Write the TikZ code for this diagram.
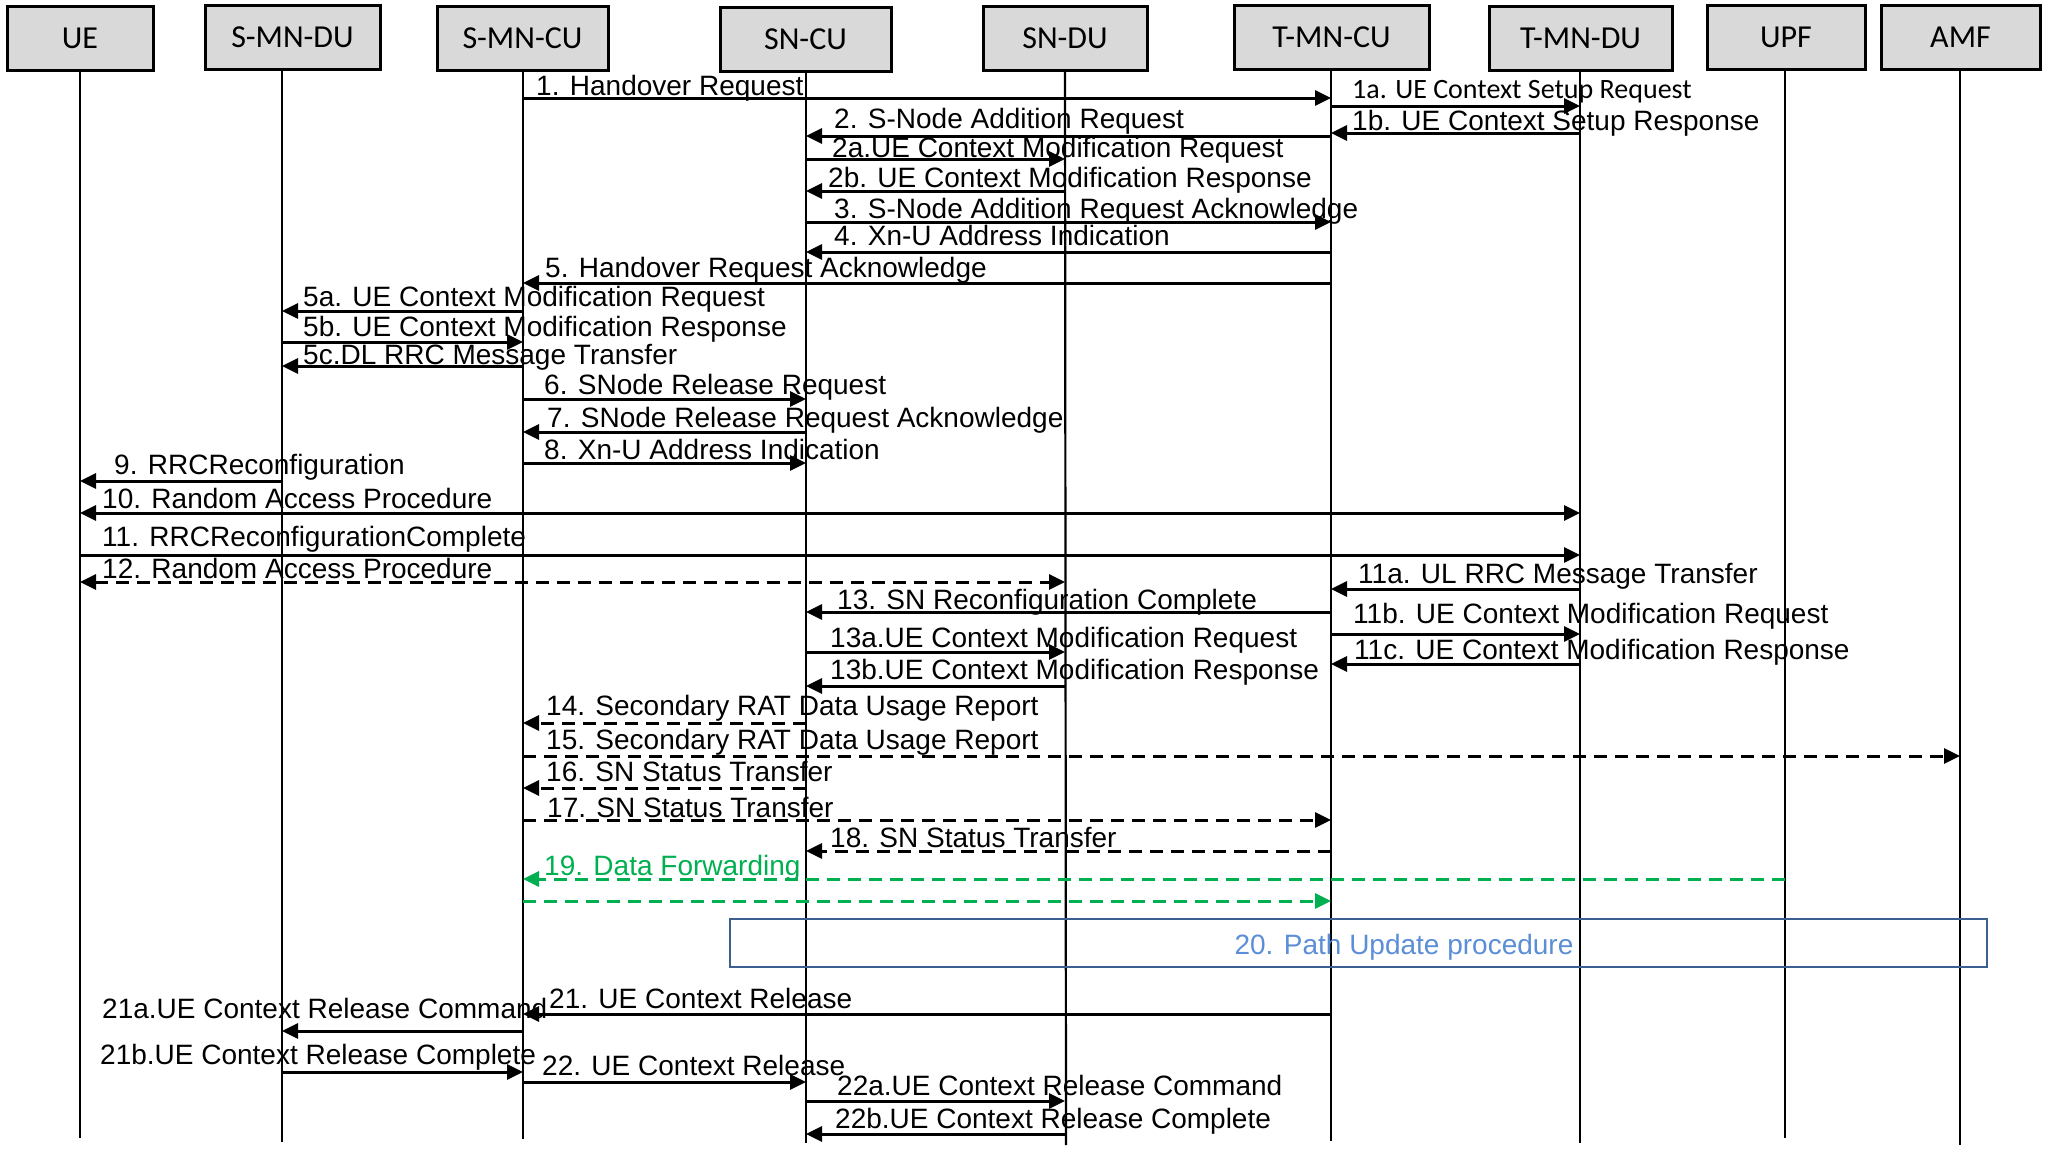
\documentclass[tikz,border=0pt]{standalone}
\usepackage{fontspec}
\setmainfont{Liberation Sans}
\newfontfamily\labfont{Liberation Sans}
\newfontfamily\calfont{Carlito}
\usetikzlibrary{arrows.meta}
\definecolor{boxgray}{HTML}{D9D9D9}
\definecolor{dfgreen}{HTML}{00B050}
\definecolor{pathblue}{HTML}{3C5F8F}
\definecolor{pathtext}{HTML}{5B8ED6}
\tikzset{
  entity/.style={draw=black, line width=3pt, fill=boxgray, minimum height=64pt, inner sep=0pt, font=\calfont\fontsize{32}{38}\selectfont},
  lifeline/.style={line width=2.2pt, black},
  msgline/.style={line width=3pt, -{Triangle[length=16pt,width=15pt]}},
  twoway/.style={line width=3pt, {Triangle[length=16pt,width=15pt]}-{Triangle[length=16pt,width=15pt]}},
  dashmsg/.style={dash pattern=on 13pt off 8pt},
  greenmsg/.style={dfgreen, dash pattern=on 13pt off 8pt},
  lbl/.style={anchor=base west, inner sep=0pt, font=\labfont\fontsize{28}{33}\selectfont},
}
\newcommand\msgto[4][]{\draw[msgline,#1] (#2 |- 0,#4) -- (#3 |- 0,#4);}
\begin{document}
\begin{tikzpicture}[x=1pt,y=-1pt]
\useasboundingbox (0,0) rectangle (2048,1154);
% entity boxes
\node[entity, minimum width=146pt] (ue) at (80,38) {UE};
\node[entity, minimum width=175pt] (smndu) at (292.5,37.5) {S-MN-DU};
\node[entity, minimum width=171pt] (smncu) at (522.5,38.5) {S-MN-CU};
\node[entity, minimum width=171pt] (sncu) at (805.5,39.5) {SN-CU};
\node[entity, minimum width=164pt] (sndu) at (1065,38.5) {SN-DU};
\node[entity, minimum width=195pt] (tmncu) at (1331.5,37.5) {T-MN-CU};
\node[entity, minimum width=183pt] (tmndu) at (1580.5,38) {T-MN-DU};
\node[entity, minimum width=158pt] (upf) at (1786,37.5) {UPF};
\node[entity, minimum width=159pt] (amf) at (1960.5,37.5) {AMF};
% lifeline coordinates
\coordinate (Lue) at (80,0);
\coordinate (Lsmndu) at (282,0);
\coordinate (Lsmncu) at (523,0);
\coordinate (Lsncu) at (806,0);
\coordinate (Lsndu) at (1065,0);
\coordinate (Ltmncu) at (1331,0);
\coordinate (Ltmndu) at (1580,0);
\coordinate (Lupf) at (1785,0);
\coordinate (Lamf) at (1960,0);
\coordinate (Bue) at (80,1138);
\coordinate (Bsmndu) at (282,1142);
\coordinate (Bsmncu) at (523,1139);
\coordinate (Bsncu) at (806,1143);
\coordinate (Bsndu) at (1066,1145);
\coordinate (Btmncu) at (1331,1141);
\coordinate (Btmndu) at (1580,1143);
\coordinate (Bupf) at (1785,1138);
\coordinate (Bamf) at (1960,1145);
\draw[lifeline] (Lue |- ue.south) -- (Bue);
\draw[lifeline] (Lsmndu |- smndu.south) -- (Bsmndu);
\draw[lifeline] (Lsmncu |- smncu.south) -- (Bsmncu);
\draw[lifeline] (Lsncu |- sncu.south) -- (Bsncu);
\draw[lifeline] (Lsndu |- sndu.south) -- (Bsndu);
\draw[lifeline] (Ltmncu |- tmncu.south) -- (Btmncu);
\draw[lifeline] (Ltmndu |- tmndu.south) -- (Btmndu);
\draw[lifeline] (Lupf |- upf.south) -- (Bupf);
\draw[lifeline] (Lamf |- amf.south) -- (Bamf);
% messages
\msgto{Lsmncu}{Ltmncu}{98}
\msgto{Ltmncu}{Ltmndu}{106}
\msgto{Ltmndu}{Ltmncu}{133}
\msgto{Ltmncu}{Lsncu}{136}
\msgto{Lsncu}{Lsndu}{159}
\msgto{Lsndu}{Lsncu}{191}
\msgto{Lsncu}{Ltmncu}{222}
\msgto{Ltmncu}{Lsncu}{252}
\msgto{Ltmncu}{Lsmncu}{283}
\msgto{Lsmncu}{Lsmndu}{311}
\msgto{Lsmndu}{Lsmncu}{342}
\msgto{Lsmncu}{Lsmndu}{366}
\msgto{Lsmncu}{Lsncu}{399}
\msgto{Lsncu}{Lsmncu}{432}
\msgto{Lsmncu}{Lsncu}{463}
\msgto{Lsmndu}{Lue}{481}
\draw[twoway] (Lue |- 0,513) -- (Ltmndu |- 0,513);
\msgto{Lue}{Ltmndu}{555}
\msgto{Ltmndu}{Ltmncu}{589}
\draw[twoway,dashmsg] (Lue |- 0,582) -- (Lsndu |- 0,582);
\msgto{Ltmncu}{Lsncu}{612}
\msgto{Ltmncu}{Ltmndu}{634}
\msgto{Lsncu}{Lsndu}{652}
\msgto{Ltmndu}{Ltmncu}{664}
\msgto{Lsndu}{Lsncu}{686}
\msgto[dashmsg]{Lsncu}{Lsmncu}{723}
\msgto[dashmsg]{Lsmncu}{Lamf}{756}
\msgto[dashmsg]{Lsncu}{Lsmncu}{788}
\msgto[dashmsg]{Lsmncu}{Ltmncu}{820}
\msgto[dashmsg]{Ltmncu}{Lsncu}{851}
\msgto[greenmsg]{Lupf}{Lsmncu}{879}
\msgto[greenmsg]{Lsmncu}{Ltmncu}{901}
\msgto{Ltmncu}{Lsmncu}{1014}
\msgto{Lsmncu}{Lsmndu}{1031}
\msgto{Lsmndu}{Lsmncu}{1072}
\msgto{Lsmncu}{Lsncu}{1082}
\msgto{Lsncu}{Lsndu}{1101}
\msgto{Lsndu}{Lsncu}{1134}
% path update box
\node[draw=pathblue, line width=2.5pt, minimum width=1257pt, minimum height=48pt, inner sep=0pt, text=pathtext, font=\labfont\fontsize{28}{33}\selectfont] (pathupd) at (1358.5,943) {};
\node[anchor=base, inner sep=0pt, text=pathtext, font=\labfont\fontsize{28}{33}\selectfont] (pathtxt) at (1404,954) {20. Path Update procedure};
% labels
\node[lbl] (t1) at (536,95) {1. Handover Request};
\node[lbl, font=\calfont\fontsize{28}{33}\selectfont] (t1a) at (1352,98) {1a. UE Context Setup Request};
\node[lbl] (t1b) at (1352,130) {1b. UE Context Setup Response};
\node[lbl] (t2) at (834,128) {2. S-Node Addition Request};
\node[lbl] (t2a) at (832,157) {2a.UE Context Modification Request};
\node[lbl] (t2b) at (828,187) {2b. UE Context Modification Response};
\node[lbl] (t3) at (834,218) {3. S-Node Addition Request Acknowledge};
\node[lbl] (t4) at (834,245) {4. Xn-U Address Indication};
\node[lbl] (t5) at (545,277) {5. Handover Request Acknowledge};
\node[lbl] (t5a) at (303,306) {5a. UE Context Modification Request};
\node[lbl] (t5b) at (303,336) {5b. UE Context Modification Response};
\node[lbl] (t5c) at (303,364) {5c.DL RRC Message Transfer};
\node[lbl] (t6) at (544,394) {6. SNode Release Request};
\node[lbl] (t7) at (547,427) {7. SNode Release Request Acknowledge};
\node[lbl] (t8) at (544,459) {8. Xn-U Address Indication};
\node[lbl] (t9) at (114,474) {9. RRCReconfiguration};
\node[lbl] (t10) at (102,508) {10. Random Access Procedure};
\node[lbl] (t11) at (102,546) {11. RRCReconfigurationComplete};
\node[lbl] (t11a) at (1358,583) {11a. UL RRC Message Transfer};
\node[lbl] (t12) at (102,578) {12. Random Access Procedure};
\node[lbl] (t13) at (837,609) {13. SN Reconfiguration Complete};
\node[lbl] (t11b) at (1353,623) {11b. UE Context Modification Request};
\node[lbl] (t13a) at (830,647) {13a.UE Context Modification Request};
\node[lbl] (t11c) at (1354,659) {11c. UE Context Modification Response};
\node[lbl] (t13b) at (830,679) {13b.UE Context Modification Response};
\node[lbl] (t14) at (546,715) {14. Secondary RAT Data Usage Report};
\node[lbl] (t15) at (546,749) {15. Secondary RAT Data Usage Report};
\node[lbl] (t16) at (546,781) {16. SN Status Transfer};
\node[lbl] (t17) at (547,817) {17. SN Status Transfer};
\node[lbl] (t18) at (830,847) {18. SN Status Transfer};
\node[lbl, text=dfgreen] (t19) at (544,875) {19. Data Forwarding};
\node[lbl] (t21) at (549,1008) {21. UE Context Release};
\node[lbl] (t21a) at (102,1018) {21a.UE Context Release Command};
\node[lbl] (t21b) at (100,1064) {21b.UE Context Release Complete};
\node[lbl] (t22) at (542,1075) {22. UE Context Release};
\node[lbl] (t22a) at (837,1095) {22a.UE Context Release Command};
\node[lbl] (t22b) at (835,1128) {22b.UE Context Release Complete};
\end{tikzpicture}
\end{document}
